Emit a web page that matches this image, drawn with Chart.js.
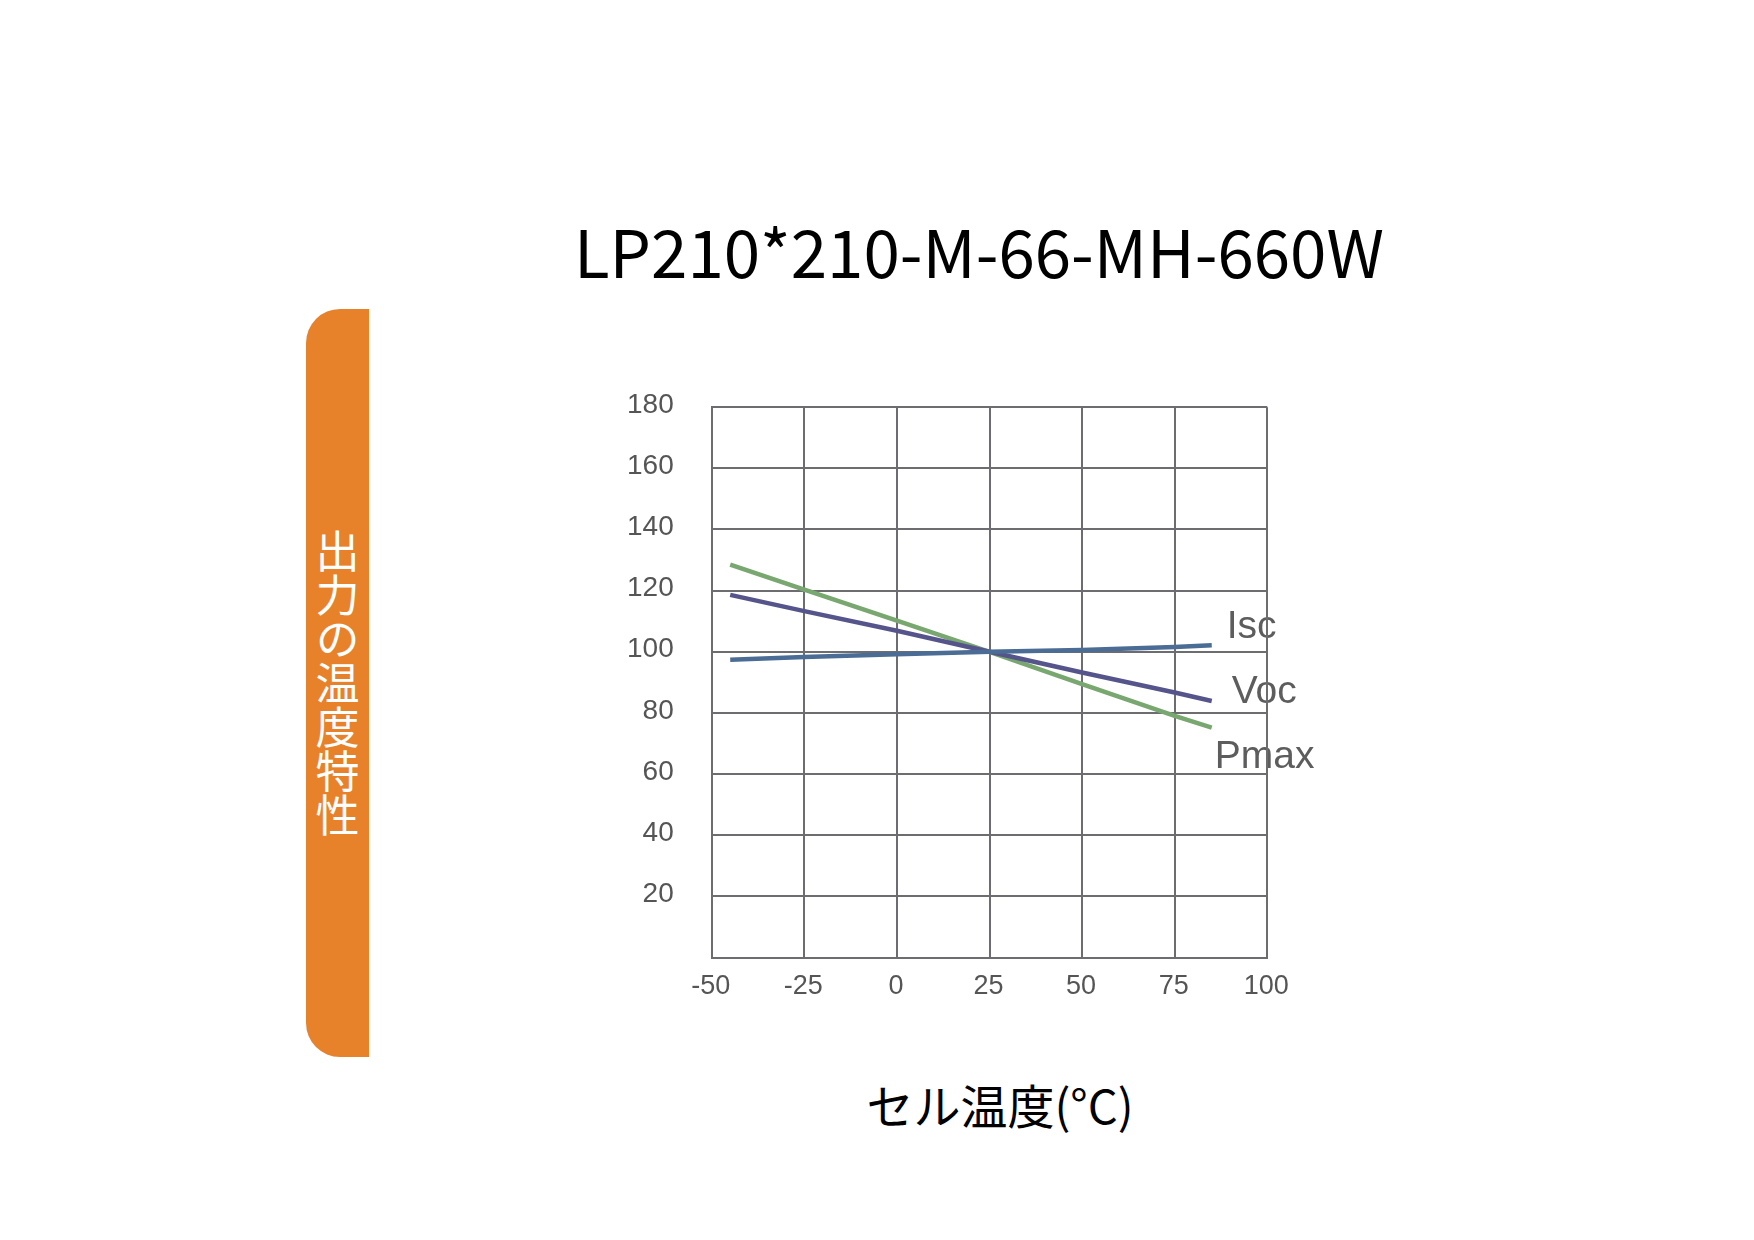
<!DOCTYPE html>
<html>
<head>
<meta charset="utf-8">
<script src="https://cdn.jsdelivr.net/npm/chart.js@4"></script>
<style>
  html, body { margin: 0; padding: 0; background: #ffffff; }
  body { width: 1754px; height: 1240px; position: relative; overflow: hidden; }
  #c { position: absolute; left: 0; top: 0; }
  #title {
    position: absolute; left: 979px; top: 210px; transform: translateX(-50%);
    font-family: "Noto Sans CJK JP", sans-serif; font-size: 65.5px; line-height: 80px;
    color: #000; white-space: nowrap;
  }
  #xtitle {
    position: absolute; left: 1000px; top: 1074px; transform: translateX(-50%);
    font-family: "Noto Sans CJK JP", sans-serif; font-size: 47px; line-height: 60px;
    color: #000; white-space: nowrap;
  }
  #side {
    position: absolute; left: 306px; top: 309px; width: 63px; height: 748px;
    background: #E8822A; border-radius: 34px 0 0 34px;
    display: flex; align-items: center; justify-content: center;
  }
  #side span {
    writing-mode: vertical-rl; text-orientation: upright;
    font-family: "Noto Sans CJK JP", sans-serif; font-size: 44px; line-height: 44px;
    color: #ffffff; letter-spacing: 0;
  }
</style>
</head>
<body>
<div id="title">LP210*210-M-66-MH-660W</div>
<div id="side"><span>出力の温度特性</span></div>
<div id="xtitle">セル温度(°C)</div>
<canvas id="c" width="1754" height="1240"></canvas>
<script>
// ---- data ----
const temps = [-45, -25, 0, 25, 50, 75, 85];
const iscValues = [97.4, 98.3, 99.2, 100, 100.6, 101.6, 102.1];
const vocValues = [118.6, 113.3, 106.9, 100, 93.2, 86.7, 83.9];
const pmaxValues = [128.5, 120.3, 110.2, 100, 89.4, 79, 75.2];
const seriesNames = ['Isc', 'Voc', 'Pmax'];
const xTicks = [-50, -25, 0, 25, 50, 75, 100];
const yTicks = [0, 20, 40, 60, 80, 100, 120, 140, 160, 180];

const seriesColors = ['#4b6c95', '#55558b', '#79a770'];
const labelOffsets = [[15, -7], [20, 2], [3, 40]];

const toPoints = vals => temps.map((t, i) => ({ x: t, y: vals[i] }));

const endLabels = {
  id: 'endLabels',
  beforeDraw(chart) {
    const ctx = chart.ctx;
    const xs = chart.scales.x, ys = chart.scales.y;
    ctx.save();
    ctx.font = '39px "Liberation Sans", Arial, sans-serif';
    ctx.fillStyle = '#5d5d5d';
    ctx.textAlign = 'left';
    ctx.textBaseline = 'alphabetic';
    chart.data.datasets.forEach((ds, i) => {
      const last = ds.data[ds.data.length - 1];
      const px = xs.getPixelForValue(last.x) + labelOffsets[i][0];
      const py = ys.getPixelForValue(last.y) + labelOffsets[i][1];
      ctx.fillText(ds.label, px, py);
    });
    ctx.restore();
  }
};

const gridColor = '#6c6c71';
const tickColor = '#555555';

new Chart(document.getElementById('c'), {
  type: 'line',
  data: {
    datasets: [
      { label: seriesNames[0], data: toPoints(iscValues), borderColor: seriesColors[0] },
      { label: seriesNames[1], data: toPoints(vocValues), borderColor: seriesColors[1] },
      { label: seriesNames[2], data: toPoints(pmaxValues), borderColor: seriesColors[2] }
    ].map(d => Object.assign(d, { borderWidth: 4.5, pointRadius: 0, tension: 0, fill: false }))
  },
  options: {
    responsive: false,
    animation: false,
    devicePixelRatio: 1,
    layout: { padding: { left: 591.7, right: 486.7, top: 407.2, bottom: 82.5 } },
    plugins: { legend: { display: false }, tooltip: { enabled: false } },
    scales: {
      x: {
        type: 'linear', min: -50, max: 100,
        afterBuildTicks: s => { s.ticks = xTicks.map(v => ({ value: v })); },
        afterFit: s => { s.height = 200; },
        grid: { color: gridColor, lineWidth: 2, drawTicks: false },
        border: { color: gridColor, width: 2 },
        ticks: { font: { family: '"Liberation Sans", Arial, sans-serif', size: 27 },
                 color: tickColor, padding: 13, labelOffset: -1, maxRotation: 0 }
      },
      y: {
        type: 'linear', min: 0, max: 180,
        afterBuildTicks: s => { s.ticks = yTicks.map(v => ({ value: v })); },
        afterFit: s => { s.width = 120; },
        grid: { color: gridColor, lineWidth: 2, drawTicks: false },
        border: { color: gridColor, width: 2 },
        ticks: { font: { family: '"Liberation Sans", Arial, sans-serif', size: 28 },
                 color: tickColor, padding: 38, labelOffset: -2,
                 callback: v => (v === 0 ? '' : String(v)) }
      }
    }
  },
  plugins: [endLabels]
});
</script>
</body>
</html>
